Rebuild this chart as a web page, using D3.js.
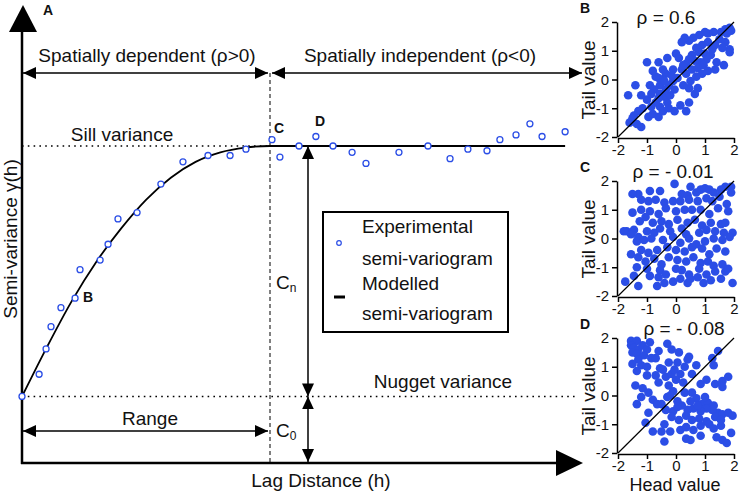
<!DOCTYPE html>
<html>
<head>
<meta charset="utf-8">
<script src="https://cdn.jsdelivr.net/npm/d3@7"></script>
<style>
  body { margin: 0; background: #fff; }
  text { font-family: "Liberation Sans", Arial, sans-serif; fill: #111; }
</style>
</head>
<body>
<script>
const width = 741;
const height = 495;
const blue = "#2b4ee6";

// experimental semi-variogram (lag, gamma)
const lagExp = [0, 0.69, 0.97, 1.17, 1.57, 2.14, 2.34, 3.15, 3.47, 3.87, 4.64, 5.6, 6.49, 7.5, 8.39, 9.03,
  10.08, 10.4, 11.17, 11.85, 12.54, 13.31, 13.87, 15.2, 16.37, 17.26, 17.98, 18.75, 19.27, 19.92, 20.48, 20.97, 21.9];
const gammaExp = [0.21, 0.28, 0.36, 0.43, 0.49, 0.52, 0.61, 0.64, 0.69, 0.77, 0.79, 0.88, 0.95, 0.97, 0.97, 0.99,
  1.02, 0.965, 1.0, 1.03, 1.0, 0.98, 0.945, 0.98, 1.0, 0.96, 0.99, 0.985, 1.02, 1.035, 1.07, 1.03, 1.045];

// modelled semi-variogram
const lagModel = [0, 1, 2, 3, 4, 5, 6, 7, 8, 9, 10, 21.9];
const gammaModel = [0.21, 0.365, 0.51, 0.635, 0.74, 0.83, 0.9, 0.95, 0.98, 0.995, 1.0, 1.0];

const nugget = 0.21;
const sill = 1.0;
const rangeLag = 10;

// h-scatterplots: [head, tail]
const scatterB = [[1.85,1.8],[1.7,1.75],[1.55,1.65],[1.75,1.6],[1.9,1.7],[1.3,1.65],[1.1,1.6],[1.0,1.65],[0.8,1.55],
  [0.6,1.45],[0.45,1.35],[0.3,1.45],[1.5,1.4],[1.7,1.3],[1.85,1.05],[1.85,0.95],[1.6,1.1],[1.35,1.2],[1.1,1.3],
  [0.9,1.2],[0.7,1.1],[1.25,1.05],[1.0,0.9],[0.8,0.95],[0.55,0.85],[0.2,1.3],[0.0,0.9],[1.4,0.6],[1.65,0.5],
  [1.05,0.7],[0.85,0.6],[0.65,0.65],[0.45,0.7],[0.35,0.55],[0.2,0.35],[0.55,0.35],[0.75,0.4],[0.95,0.5],[1.1,0.3],
  [1.35,0.35],[0.9,0.2],[0.7,0.1],[0.5,-0.05],[0.75,-0.3],[0.45,-0.3],[0.25,-0.2],[0.05,0.05],[-0.1,-0.05],
  [-0.05,-0.35],[-0.25,-0.2],[-0.35,0.2],[-0.45,0.0],[-0.6,0.05],[-0.55,-0.2],[-0.7,0.1],[-0.8,0.3],[-0.9,-0.2],
  [-0.75,-0.35],[-0.55,-0.5],[-0.4,-0.6],[-0.3,-0.8],[-0.55,-0.95],[-0.7,-0.8],[-0.85,-0.95],[-1.0,-0.7],
  [-1.15,-1.0],[-1.2,-0.55],[-1.4,-0.2],[-1.65,-0.55],[-1.3,-1.1],[-1.45,-1.25],[-1.6,-1.5],[-1.5,-1.35],
  [-1.35,-1.55],[-1.2,-1.65],[-0.95,-1.3],[-0.8,-1.2],[-0.6,-1.3],[-0.45,-1.1],[-0.25,-1.0],[-0.05,-1.1],
  [0.15,-0.9],[0.35,-1.1],[0.45,-0.8],[-1.0,0.6],[-0.6,0.6],[-0.3,0.75],[-0.1,0.35],[0.1,0.75],[-0.45,0.35],
  [0.35,0.2],[0.65,-0.5],[-0.2,-0.55],[-0.35,-0.35],[-0.6,-0.65],[-0.85,-0.5],[0.25,0.5],[1.2,0.85],[-0.15,0.15],[-0.4,-0.05]];

const scatterC = [[-0.05,1.9],[0.5,1.8],[0.85,1.7],[1.0,1.75],[1.15,1.7],[1.7,1.8],[1.9,1.8],[1.3,1.6],[-0.55,1.65],
  [-0.9,1.65],[-1.3,1.55],[-1.5,1.55],[0.2,1.55],[0.4,1.5],[0.7,1.6],[1.55,1.7],[1.9,1.6],
  [-1.2,1.35],[-0.95,1.3],[-0.7,1.35],[-0.4,1.25],[-0.1,1.3],[0.15,1.3],[0.45,1.35],[0.75,1.3],[1.05,1.4],
  [1.25,1.3],[1.5,1.45],[1.75,1.2],[-1.5,0.9],[-1.2,1.0],[-0.9,0.95],[-0.6,0.85],[-0.35,1.05],[0.0,0.95],
  [0.3,1.0],[0.55,1.0],[0.85,1.0],[1.15,0.85],[1.45,1.05],[1.8,0.95],
  [-1.7,0.25],[-1.45,0.3],[-1.25,0.6],[-1.05,0.75],[-0.8,0.55],[-0.5,0.6],[-0.25,0.5],[0.05,0.65],[0.2,0.35],
  [0.4,0.55],[0.65,0.65],[0.9,0.45],[1.2,0.55],[1.55,0.5],[1.7,0.55],[-1.55,0.15],[-1.3,0.05],[-1.0,0.25],
  [-0.75,0.2],[-0.55,0.35],[-0.2,0.25],[0.35,0.15],[0.8,0.2],[1.05,0.3],[1.35,0.25],[1.65,0.2],[1.95,0.2],
  [-1.8,0.25],[-1.35,-0.1],[-1.1,-0.05],[-0.85,0.0],[-0.45,-0.05],[-0.1,0.05],[0.15,-0.15],[0.45,0.0],
  [0.7,-0.2],[1.0,-0.1],[1.3,0.0],[1.6,-0.05],[1.85,0.05],[-1.55,-0.55],[-1.2,-0.4],[-0.95,-0.5],[-0.65,-0.4],
  [-0.3,-0.3],[0.0,-0.4],[0.3,-0.45],[0.55,-0.3],[0.9,-0.35],[1.15,-0.55],[1.4,-0.35],[1.7,-0.45],
  [-1.3,-0.65],[-1.05,-0.8],[-0.75,-0.7],[-0.5,-0.9],[-0.25,-0.65],[0.05,-0.75],[0.35,-0.8],[0.6,-0.65],
  [0.85,-0.85],[1.1,-0.8],[1.3,-0.95],[1.6,-0.9],[-1.35,-1.0],[-1.0,-1.05],[-0.55,-1.1],[-0.35,-1.25],
  [0.0,-1.05],[0.2,-1.1],[0.45,-1.25],[0.8,-1.05],[1.05,-1.25],[1.35,-1.15],[1.7,-1.15],[1.8,-1.05],
  [-1.75,-1.5],[-1.45,-1.3],[-1.3,-1.65],[-0.9,-1.3],[-0.65,-1.65],[-0.4,-1.55],[-0.1,-1.5],[0.15,-1.4],
  [0.4,-1.55],[0.75,-1.35],[0.95,-1.55],[1.2,-1.45],[1.55,-1.4],[1.95,-1.55],[0.5,-1.4],[-0.6,-1.35]];

const scatterD = [[-1.55,1.9],[-1.35,1.9],[-1.55,1.75],[-1.45,1.65],[-1.3,1.6],[-1.5,1.5],[-1.35,1.45],[-1.15,1.75],
  [-1.0,1.6],[-0.9,1.85],[-1.1,1.4],[-0.85,1.3],[-0.7,1.3],[-1.3,1.25],[-1.5,1.1],[-1.2,1.05],[-1.35,0.85],
  [-1.0,1.0],[-0.6,1.55],[-0.3,1.8],[-0.15,1.6],[0.1,1.5],[0.05,1.15],[-0.25,1.15],[0.3,1.0],[0.15,0.75],
  [-0.45,0.9],[-0.55,0.95],[-0.35,0.65],[-0.15,0.75],[-0.7,0.7],[-1.0,0.7],[-1.4,0.35],[-1.15,0.25],[-0.95,0.1],
  [-0.6,0.45],[-0.25,0.35],[0.0,0.55],[0.25,0.45],[0.55,0.75],[0.4,1.25],[0.7,1.05],[1.25,1.3],[1.45,1.55],
  [0.85,0.4],[1.05,0.55],[1.35,0.4],[1.6,0.5],[1.8,0.65],[-1.2,-0.05],[-0.8,-0.15],[-0.5,-0.3],[-0.3,-0.05],
  [-0.1,0.15],[0.05,-0.2],[0.3,0.1],[0.55,0.1],[0.7,-0.1],[0.9,-0.3],[1.1,-0.25],[1.3,-0.35],[1.45,-0.6],
  [1.25,-0.5],[1.05,-0.45],[0.85,-0.55],[0.6,-0.45],[0.4,-0.5],[0.2,-0.35],[-0.1,-0.55],[-0.35,-0.5],
  [-0.65,-0.3],[-0.95,-0.6],[-1.35,-0.3],[-1.05,-0.95],[-0.4,-1.0],[-0.15,-0.75],[0.1,-0.85],[0.35,-0.7],
  [0.55,-0.85],[0.8,-0.8],[1.05,-0.9],[1.35,-0.75],[1.6,-0.65],[1.8,-0.6],[1.95,-0.7],[-0.8,-1.25],
  [-0.5,-1.25],[-0.2,-1.25],[0.15,-1.2],[0.35,-1.1],[0.6,-1.2],[0.85,-1.05],[1.15,-1.0],[1.3,-1.15],
  [1.55,-1.05],[1.9,-1.3],[-0.4,-1.6],[0.5,-1.55],[0.85,-1.4],[1.4,-1.45],[1.6,-1.55],[1.75,-1.65],
  [0.35,-1.5],[0.05,-0.4],[0.5,-0.2],[1.0,-0.05],[1.55,-0.85],[0.75,-0.35],[-0.2,0.0],[-0.05,0.9],
  [0.45,1.35],[1.6,0.3],[1.3,1.05]];

const scatterTicks = [-2, -1, 0, 1, 2];

const svg = d3.select("body").append("svg")
    .attr("width", width)
    .attr("height", height);

svg.append("defs").append("marker")
    .attr("id", "head")
    .attr("viewBox", "0 0 13 12")
    .attr("markerUnits", "userSpaceOnUse")
    .attr("markerWidth", 13)
    .attr("markerHeight", 12)
    .attr("refX", 13)
    .attr("refY", 6)
    .attr("orient", "auto-start-reverse")
  .append("path")
    .attr("d", "M0,0L13,6L0,12Z")
    .attr("fill", "#000");

// ---- panel A ----
const x = d3.scaleLinear().domain([0, rangeLag]).range([22, 270]);
const y = d3.scaleLinear().domain([0, 1]).range([463, 146]);
const xEnd = 583;

function arrow(x1, y1, x2, y2, both) {
  const l = svg.append("line")
      .attr("x1", x1).attr("y1", y1).attr("x2", x2).attr("y2", y2)
      .attr("stroke", "#000").attr("stroke-width", 1.5)
      .attr("marker-end", "url(#head)");
  if (both) l.attr("marker-start", "url(#head)");
}

// axes
svg.append("line").attr("x1", 22).attr("y1", 464).attr("x2", 22).attr("y2", 30)
    .attr("stroke", "#000").attr("stroke-width", 2.5);
svg.append("path").attr("d", "M23,5L37,32L9,32Z").attr("fill", "#000");
svg.append("line").attr("x1", 21).attr("y1", 463).attr("x2", 558).attr("y2", 463)
    .attr("stroke", "#000").attr("stroke-width", 2.5);
svg.append("path").attr("d", `M${xEnd},463L556,450L556,476Z`).attr("fill", "#000");

// range boundary
svg.append("line").attr("x1", x(rangeLag)).attr("x2", x(rangeLag)).attr("y1", 73).attr("y2", 463)
    .attr("stroke", "#000").attr("stroke-width", 1).attr("stroke-dasharray", "4,3");

// sill and nugget
svg.append("line").attr("x1", x(0)).attr("x2", x(rangeLag)).attr("y1", y(sill)).attr("y2", y(sill))
    .attr("stroke", "#000").attr("stroke-width", 1.6).attr("stroke-dasharray", "1.6,4.2");
svg.append("line").attr("x1", x(0)).attr("x2", 578).attr("y1", y(nugget)).attr("y2", y(nugget))
    .attr("stroke", "#000").attr("stroke-width", 1.6).attr("stroke-dasharray", "1.6,4.2");

// modelled curve
const model = lagModel.map((h, i) => [h, gammaModel[i]]);
svg.append("path")
    .datum(model)
    .attr("fill", "none")
    .attr("stroke", "#000")
    .attr("stroke-width", 1.8)
    .attr("d", d3.line().x(d => x(d[0])).y(d => y(d[1])).curve(d3.curveMonotoneX));

// experimental points
svg.append("g").selectAll("circle")
    .data(lagExp.map((h, i) => [h, gammaExp[i]]))
    .join("circle")
    .attr("cx", d => x(d[0]))
    .attr("cy", d => y(d[1]))
    .attr("r", 3)
    .attr("fill", "#fff")
    .attr("stroke", blue)
    .attr("stroke-width", 1.3);

// arrows
arrow(23, 73, 268, 73, true);
arrow(272, 73, 582, 73, true);
arrow(308, y(sill), 308, y(nugget), true);
arrow(308, y(nugget), 308, 462, true);
arrow(23, 431, 268, 431, true);

// texts
const txt = (tx, ty, s, size, anchor) => svg.append("text")
    .attr("x", tx).attr("y", ty)
    .attr("font-size", size)
    .attr("text-anchor", anchor || "middle")
    .text(s);

txt(147, 62, "Spatially dependent (ρ>0)", 19);
txt(420, 62, "Spatially independent (ρ<0)", 19);
txt(122, 141, "Sill variance", 19);
txt(443, 388, "Nugget variance", 19);
txt(150, 425, "Range", 19);
txt(321, 487, "Lag Distance (h)", 19);

const cn = txt(276, 289, "C", 19, "start");
cn.append("tspan").attr("font-size", 12).attr("dy", 3).text("n");
const c0 = txt(276, 437, "C", 19, "start");
c0.append("tspan").attr("font-size", 12).attr("dy", 3).text("0");

svg.append("text")
    .attr("transform", "translate(17,239) rotate(-90)")
    .attr("text-anchor", "middle")
    .attr("font-size", 19)
    .text("Semi-variance γ(h)");

const bold = (tx, ty, s, size) => txt(tx, ty, s, size || 14, "start").attr("font-weight", "bold");
bold(43, 15, "A");
bold(83, 302, "B");
bold(274, 133, "C");
bold(315, 126, "D");

// legend
svg.append("rect").attr("x", 323).attr("y", 212).attr("width", 185).attr("height", 120)
    .attr("fill", "#fff").attr("stroke", "#000").attr("stroke-width", 2);
svg.append("circle").attr("cx", 339).attr("cy", 243).attr("r", 2.3)
    .attr("fill", "#fff").attr("stroke", blue).attr("stroke-width", 1.2);
svg.append("line").attr("x1", 334).attr("x2", 345).attr("y1", 297).attr("y2", 297)
    .attr("stroke", "#000").attr("stroke-width", 3);
txt(362, 233, "Experimental", 19, "start");
txt(362, 265, "semi-variogram", 19, "start");
txt(362, 290, "Modelled", 19, "start");
txt(362, 320, "semi-variogram", 19, "start");

// ---- panels B, C, D ----
const sx = d3.scaleLinear().domain([-2, 2]).range([618, 734]);

function scatter(data, top, letter, title, titleX, titleY, last) {
  const sy = d3.scaleLinear().domain([-2, 2]).range([top + 115, top]);
  const g = svg.append("g");

  g.append("g")
      .attr("transform", `translate(0,${top + 116})`)
      .call(d3.axisBottom(sx).tickValues(scatterTicks).tickSize(5).tickSizeOuter(0).tickFormat(d => String(d)))
      .call(a => a.selectAll("text").attr("font-size", 15).attr("y", 6).attr("dy", "0.7em").attr("fill", "#111"))
      .call(a => a.selectAll("line, path").attr("stroke-width", 1.5));

  g.append("g")
      .attr("transform", "translate(617,0)")
      .call(d3.axisLeft(sy).tickValues(scatterTicks).tickSize(5).tickSizeOuter(0).tickFormat(d => String(d)))
      .call(a => a.selectAll("text").attr("font-size", 15).attr("fill", "#111").attr("x", -8))
      .call(a => a.selectAll("line, path").attr("stroke-width", 1.5));

  g.append("g").selectAll("circle")
      .data(data)
      .join("circle")
      .attr("cx", d => sx(d[0]))
      .attr("cy", d => sy(d[1]))
      .attr("r", 4.3)
      .attr("fill", blue);

  g.append("line")
      .attr("x1", sx(-2)).attr("y1", sy(-2)).attr("x2", sx(2)).attr("y2", sy(2))
      .attr("stroke", "#000").attr("stroke-width", 1.2);

  txt(titleX, titleY, title, 19);
  bold(580, top - 9, letter, 14);

  svg.append("text")
      .attr("transform", `translate(595,${top + 58}) rotate(-90)`)
      .attr("text-anchor", "middle")
      .attr("font-size", 19)
      .text("Tail value");

  if (last) txt(675, top + 153, "Head value", 18);
}

scatter(scatterB, 22, "B", "ρ = 0.6", 666, 24, false);
scatter(scatterC, 181, "C", "ρ = - 0.01", 673, 178, false);
scatter(scatterD, 338, "D", "ρ = - 0.08", 684, 335, true);
</script>
</body>
</html>
